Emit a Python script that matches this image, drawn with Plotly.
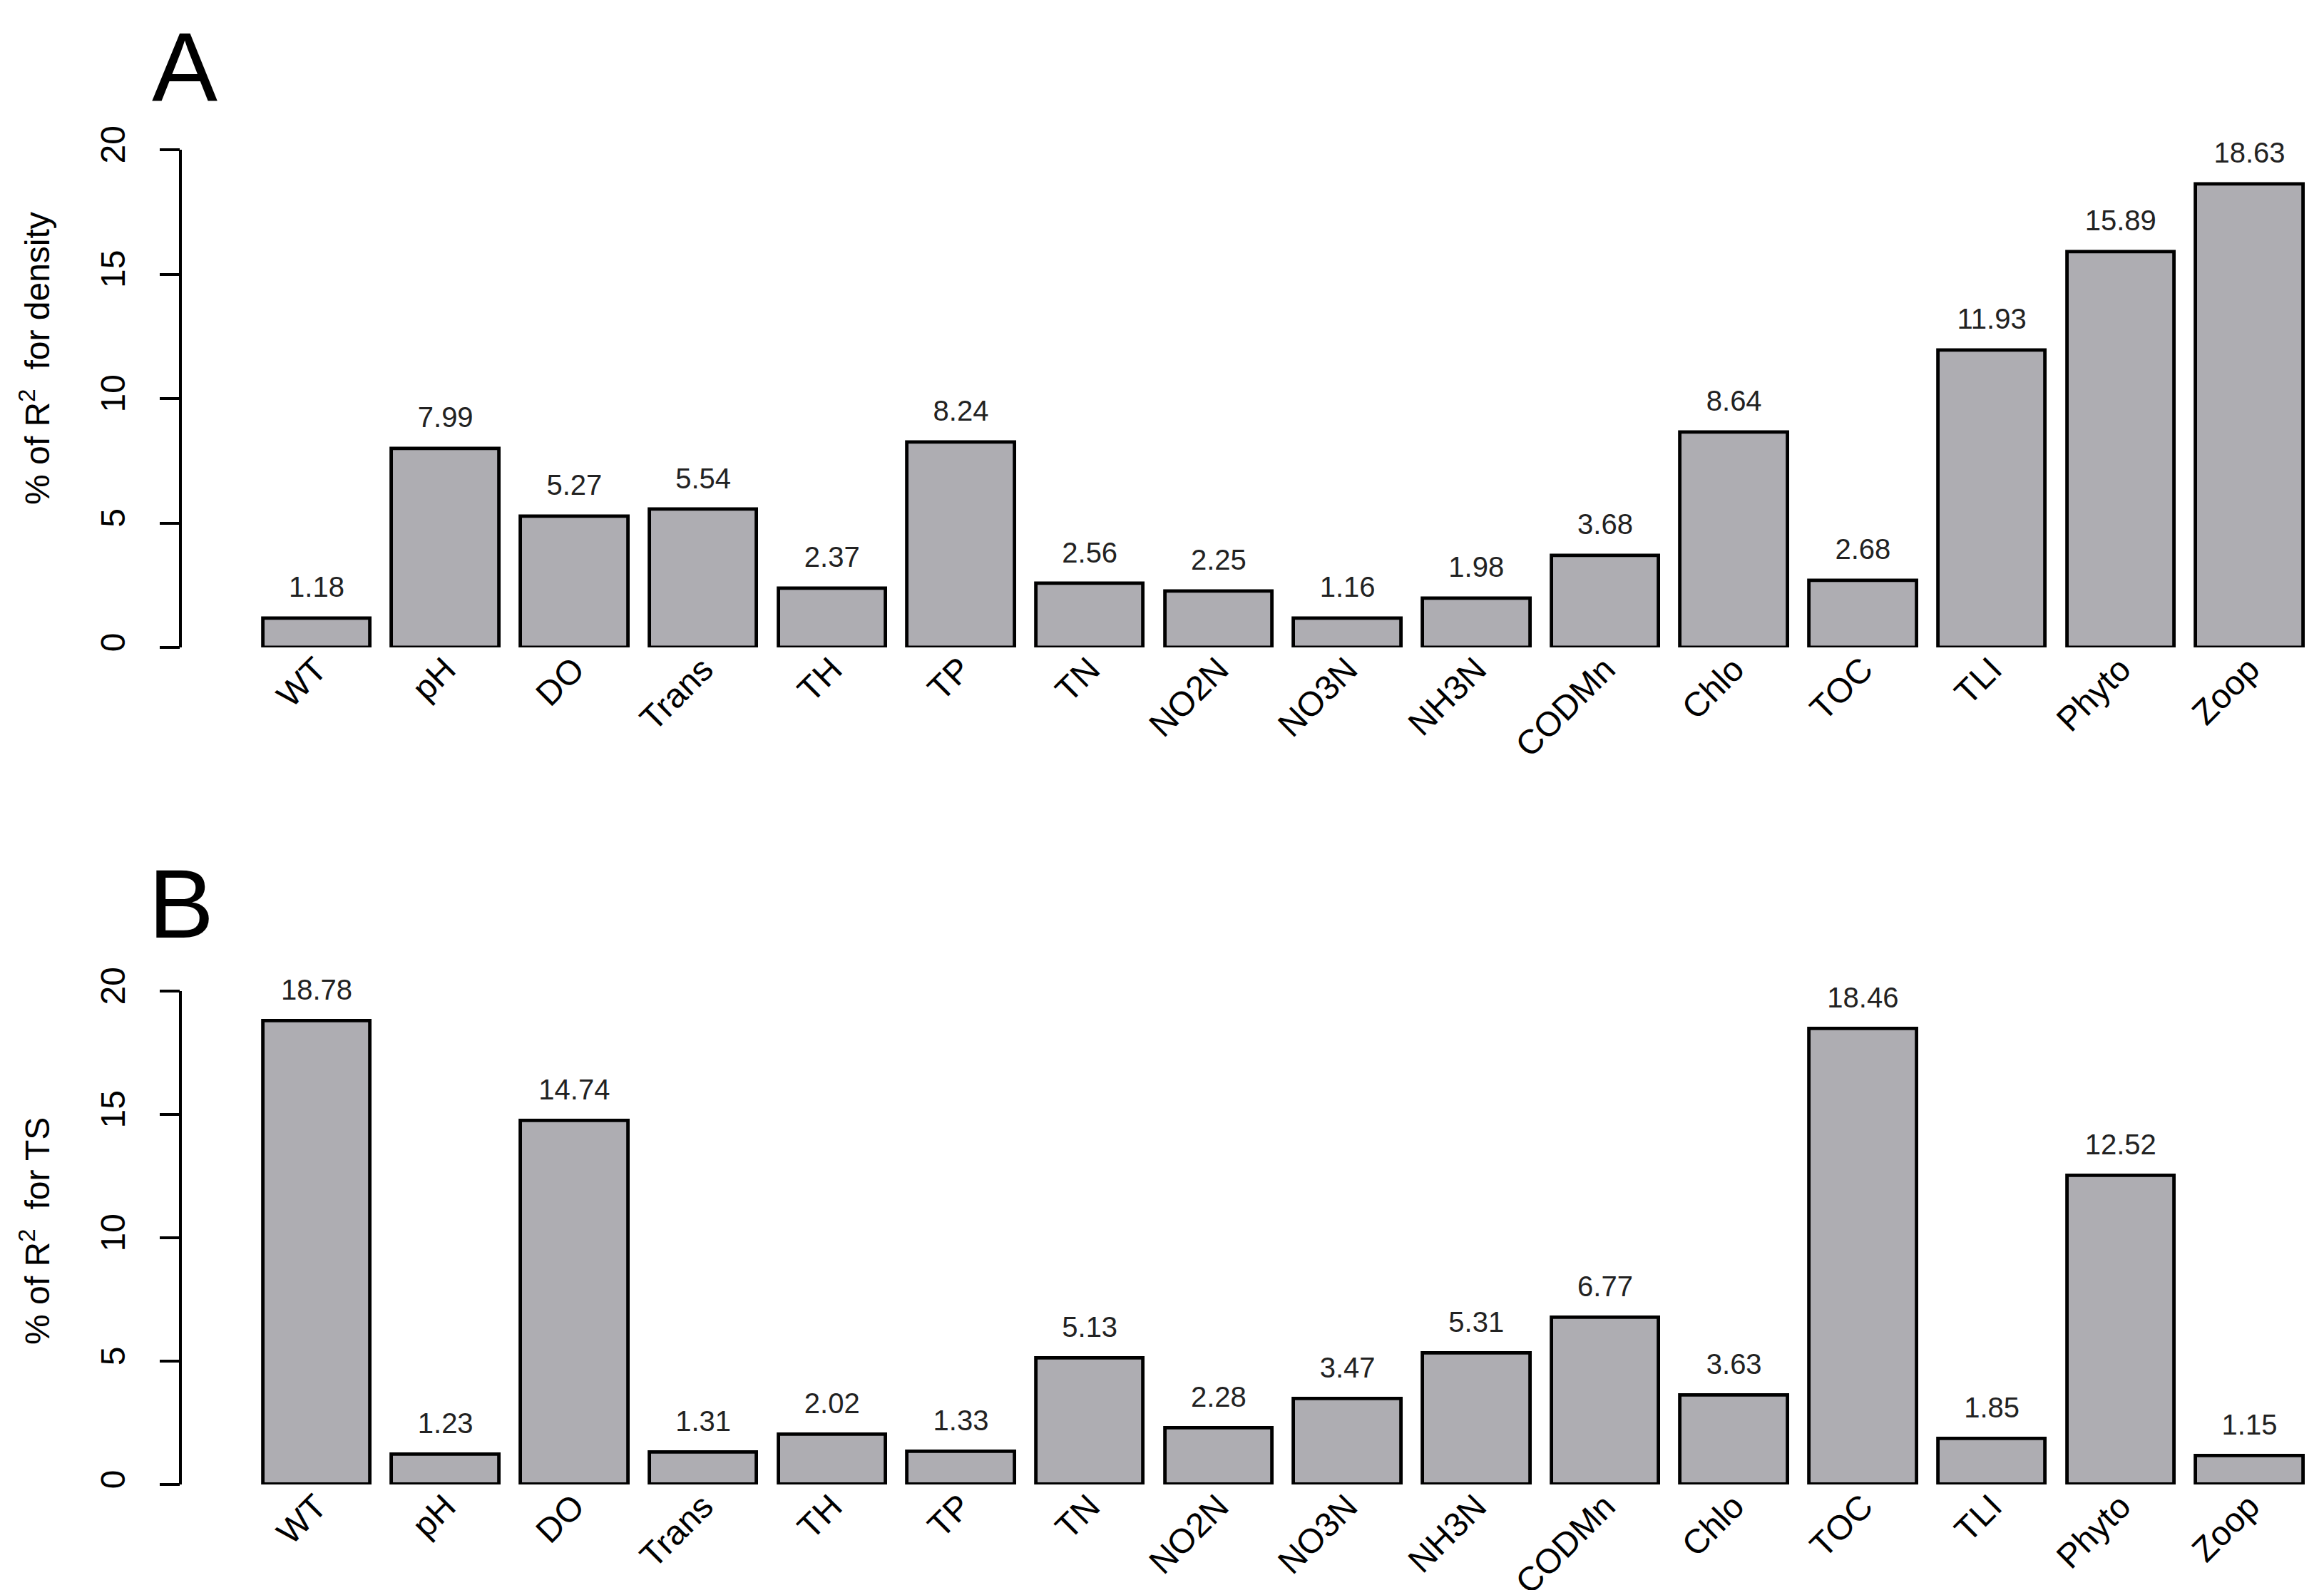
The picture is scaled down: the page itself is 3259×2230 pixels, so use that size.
import plotly.graph_objects as go

# ---- data ----
categories = ["WT", "pH", "DO", "Trans", "TH", "TP", "TN", "NO2N", "NO3N",
              "NH3N", "CODMn", "Chlo", "TOC", "TLI", "Phyto", "Zoop"]
density_vals = [1.18, 7.99, 5.27, 5.54, 2.37, 8.24, 2.56, 2.25, 1.16,
                1.98, 3.68, 8.64, 2.68, 11.93, 15.89, 18.63]
ts_vals = [18.78, 1.23, 14.74, 1.31, 2.02, 1.33, 5.13, 2.28, 3.47,
           5.31, 6.77, 3.63, 18.46, 1.85, 12.52, 1.15]
y_ticks = [0, 5, 10, 15, 20]
panel_letters = ["A", "B"]
y_titles = ["% of R<sup>2</sup>  for density", "% of R<sup>2</sup>  for TS"]

W, H = 3259, 2230
PAGE = 8  # default body margin of the html page
FONT = "Liberation Sans, Arial, Helvetica, sans-serif"
BAR_FILL = "#AEADB2"
LABEL_OFFSET = 1.15
YMAX = 22.0      # plotting range top (axis line drawn only 0..20)
AXIS_TOP = 20

fig = go.Figure()

series = [density_vals, ts_vals]
for i, vals in enumerate(series):
    xa = "x" if i == 0 else "x2"
    ya = "y" if i == 0 else "y2"
    fig.add_trace(go.Bar(
        x=categories, y=vals, xaxis=xa, yaxis=ya,
        width=0.833,
        marker=dict(color=BAR_FILL, line=dict(color="black", width=4.8)),
        cliponaxis=False, showlegend=False, hoverinfo="x+y",
    ))
    fig.add_trace(go.Scatter(
        x=categories, y=[v + LABEL_OFFSET for v in vals],
        xaxis=xa, yaxis=ya, mode="text",
        text=[f"{v:.2f}" for v in vals],
        textposition="middle center",
        textfont=dict(family=FONT, size=40, color="#222222"),
        cliponaxis=False, showlegend=False, hoverinfo="skip",
    ))


def ydomain(px0, px20):
    px0 -= PAGE
    px20 -= PAGE
    top = px0 - (px0 - px20) * YMAX / 20.0
    return [1 - px0 / H, 1 - top / H]


axis_px = 253 - PAGE
first_center = 444 - PAGE
period = 180.7
xrange = [(axis_px - first_center) / period, (W - first_center) / period]
xdomain = [axis_px / W, 1.0]
ydomA = ydomain(908, 210)
ydomB = ydomain(2082, 1390)

xcommon = dict(type="category", range=xrange, domain=xdomain,
               showline=False, showgrid=False, zeroline=False, ticks="",
               tickangle=-45, tickfont=dict(family=FONT, size=48, color="black"),
               ticklabelstandoff=-8, automargin=False, fixedrange=True)
ycommon = dict(range=[0, YMAX], tickvals=y_ticks, showline=False,
               ticks="outside", ticklen=28, tickwidth=4, tickcolor="black",
               tickangle=-90, showgrid=False, zeroline=False,
               tickfont=dict(family=FONT, size=48, color="black"),
               ticklabelstandoff=30, automargin=False, fixedrange=True)

fig.update_layout(
    template="none",
    width=W, height=H,
    margin=dict(l=0, r=0, t=0, b=0, pad=0),
    paper_bgcolor="white", plot_bgcolor="white",
    font=dict(family=FONT, color="black"),
    xaxis=dict(**xcommon, anchor="y"),
    yaxis=dict(**ycommon, domain=ydomA, anchor="x"),
    xaxis2=dict(**xcommon, anchor="y2"),
    yaxis2=dict(**ycommon, domain=ydomB, anchor="x2"),
    bargap=0,
)

# y axis lines spanning only the tick range (R style)
for xr, yr in [("x domain", "y"), ("x2 domain", "y2")]:
    fig.add_shape(type="line", xref=xr, yref=yr, x0=0, x1=0, y0=0, y1=AXIS_TOP,
                  line=dict(color="black", width=4))

# panel letters
letter_pos = [(251 / W, 1 - 86 / H), (246 / W, 1 - 1259 / H)]
for letter, (lx, ly) in zip(panel_letters, letter_pos):
    fig.add_annotation(text=letter, xref="paper", yref="paper", x=lx, y=ly,
                       xanchor="center", yanchor="middle", showarrow=False,
                       font=dict(family=FONT, size=138, color="black"))

# y axis titles
title_pos = [(41 / W, 1 - 495 / H), (41 / W, 1 - 1719 / H)]
for t, (tx, ty) in zip(y_titles, title_pos):
    fig.add_annotation(text=t, xref="paper", yref="paper", x=tx, y=ty,
                       xanchor="center", yanchor="middle", showarrow=False,
                       textangle=-90,
                       font=dict(family=FONT, size=48, color="black"))

fig.write_html("out.html")
